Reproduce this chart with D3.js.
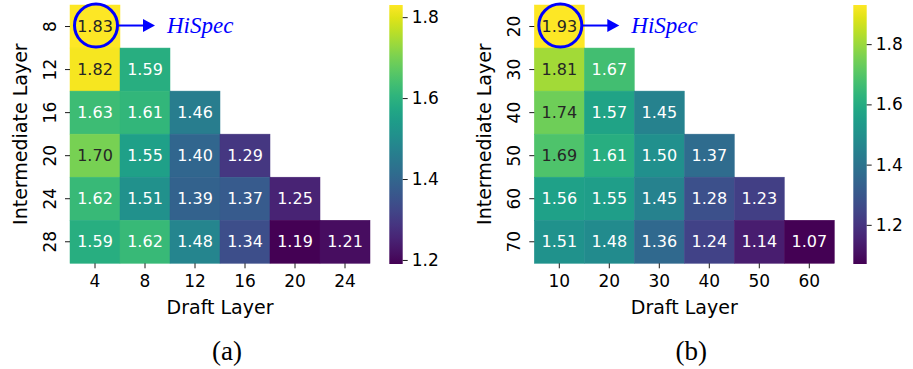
<!DOCTYPE html>
<html>
<head>
<meta charset="utf-8">
<script src="https://cdn.jsdelivr.net/npm/d3@7"></script>
<style>
  body { margin: 0; background: #fff; }
  svg { display: block; }
  .tick text { font-family: "DejaVu Sans", sans-serif; fill: #000; }
  .tick line { stroke: #000; stroke-width: 0.9; }
</style>
</head>
<body>
<div id="main"></div>
<script>
const W = 913, H = 369;

// panel (a)
const colsA = [4, 8, 12, 16, 20, 24];
const rowsA = [8, 12, 16, 20, 24, 28];
const valsA = [
    [1.83, null, null, null, null, null],
    [1.82, 1.59, null, null, null, null],
    [1.63, 1.61, 1.46, null, null, null],
    [1.70, 1.55, 1.40, 1.29, null, null],
    [1.62, 1.51, 1.39, 1.37, 1.25, null],
    [1.59, 1.62, 1.48, 1.34, 1.19, 1.21],
];

// panel (b)
const colsB = [10, 20, 30, 40, 50, 60];
const rowsB = [20, 30, 40, 50, 60, 70];
const valsB = [
    [1.93, null, null, null, null, null],
    [1.81, 1.67, null, null, null, null],
    [1.74, 1.57, 1.45, null, null, null],
    [1.69, 1.61, 1.50, 1.37, null, null],
    [1.56, 1.55, 1.45, 1.28, 1.23, null],
    [1.51, 1.48, 1.36, 1.24, 1.14, 1.07],
];

const cbarTicks = [1.2, 1.4, 1.6, 1.8];

// seaborn-style text colour from cell luminance
function textColor(c) {
    const rgb = d3.rgb(c);
    const lin = v => { v /= 255; return v <= 0.03928 ? v / 12.92 : Math.pow((v + 0.055) / 1.055, 2.4); };
    const lum = 0.2126 * lin(rgb.r) + 0.7152 * lin(rgb.g) + 0.0722 * lin(rgb.b);
    return lum > 0.408 ? "#262626" : "#ffffff";
}

function drawPanel(svg, cfg) {
    const { cols, rows, vals, x0, cbX, label, id } = cfg;
    const y0 = 5, pw = 300, ph = 258.3;
    const flat = vals.flat().filter(v => v !== null);
    const vmin = d3.min(flat), vmax = d3.max(flat);
    const color = d3.scaleSequential(d3.interpolateViridis).domain([vmin, vmax]);

    const x = d3.scaleBand().domain(cols).range([x0, x0 + pw]);
    const y = d3.scaleBand().domain(rows).range([y0, y0 + ph]);

    const cells = [];
    vals.forEach((r, i) => r.forEach((v, j) => {
        if (v !== null) cells.push({ row: rows[i], col: cols[j], v: v });
    }));

    const g = svg.append("g");
    g.selectAll("rect")
        .data(cells)
        .enter()
        .append("rect")
        .attr("x", d => x(d.col))
        .attr("y", d => y(d.row))
        .attr("width", x.bandwidth())
        .attr("height", y.bandwidth())
        .attr("fill", d => color(d.v))
        .attr("stroke", d => color(d.v))
        .attr("stroke-width", 0.5);

    g.selectAll("text")
        .data(cells)
        .enter()
        .append("text")
        .attr("x", d => x(d.col) + x.bandwidth() / 2)
        .attr("y", d => y(d.row) + y.bandwidth() / 2)
        .attr("text-anchor", "middle")
        .attr("dominant-baseline", "central")
        .attr("font-family", "DejaVu Sans, sans-serif")
        .attr("font-size", 16)
        .attr("fill", d => textColor(color(d.v)))
        .text(d => d.v.toFixed(2));

    // x axis
    const xa = svg.append("g")
        .attr("transform", `translate(0,${y0 + ph})`)
        .call(d3.axisBottom(x).tickSize(5).tickPadding(7));
    xa.select(".domain").remove();
    xa.selectAll("text").attr("font-size", 17);

    // y axis, labels rotated
    const ya = svg.append("g")
        .attr("transform", `translate(${x0},0)`)
        .call(d3.axisLeft(y).tickSize(5));
    ya.select(".domain").remove();
    ya.selectAll("text")
        .attr("x", null).attr("dy", null)
        .attr("text-anchor", "middle")
        .attr("dominant-baseline", "central")
        .attr("transform", "translate(-20,0) rotate(-90)")
        .attr("font-size", 17);

    svg.append("text")
        .attr("x", x0 + pw / 2)
        .attr("y", 314)
        .attr("text-anchor", "middle")
        .attr("font-family", "DejaVu Sans, sans-serif")
        .attr("font-size", 19)
        .text("Draft Layer");

    svg.append("text")
        .attr("transform", `translate(${x0 - 50},${y0 + ph / 2}) rotate(-90)`)
        .attr("text-anchor", "middle")
        .attr("dominant-baseline", "central")
        .attr("font-family", "DejaVu Sans, sans-serif")
        .attr("font-size", 19)
        .text("Intermediate Layer");

    svg.append("text")
        .attr("x", x0 + pw / 2 + 7)
        .attr("y", 360)
        .attr("text-anchor", "middle")
        .attr("font-family", "Liberation Serif, serif")
        .attr("font-size", 27)
        .text(label);

    // colorbar
    const cbTop = 5, cbBot = 264, cbW = 13.4;
    const grad = svg.append("defs").append("linearGradient")
        .attr("id", id).attr("x1", 0).attr("y1", 1).attr("x2", 0).attr("y2", 0);
    d3.range(0, 1.0001, 0.05).forEach(t => {
        grad.append("stop").attr("offset", t).attr("stop-color", d3.interpolateViridis(t));
    });
    svg.append("rect")
        .attr("x", cbX).attr("y", cbTop)
        .attr("width", cbW).attr("height", cbBot - cbTop)
        .attr("fill", `url(#${id})`);
    const cs = d3.scaleLinear().domain([vmin, vmax]).range([cbBot, cbTop]);
    const ca = svg.append("g")
        .attr("transform", `translate(${cbX + cbW},0)`)
        .call(d3.axisRight(cs).tickValues(cbarTicks).tickFormat(d3.format(".1f")).tickSize(5).tickPadding(4));
    ca.select(".domain").remove();
    ca.selectAll("text").attr("font-size", 17);

    // HiSpec marker on first cell
    const cx = x(cols[0]) + x.bandwidth() / 2 + 1;
    const cy = y(rows[0]) + y.bandwidth() / 2 - 1;
    const blue = "#0000ff";
    svg.append("circle")
        .attr("cx", cx).attr("cy", cy).attr("r", 21.5)
        .attr("fill", "none").attr("stroke", blue).attr("stroke-width", 3);
    svg.append("line")
        .attr("x1", cx + 21.5).attr("x2", cx + 50)
        .attr("y1", cy).attr("y2", cy)
        .attr("stroke", blue).attr("stroke-width", 2);
    svg.append("path")
        .attr("d", `M${cx + 47},${cy - 6.5} L${cx + 59},${cy} L${cx + 47},${cy + 6.5} Z`)
        .attr("fill", blue);
    svg.append("text")
        .attr("x", cx + 71).attr("y", cy + 7.5)
        .attr("font-family", "Liberation Serif, serif")
        .attr("font-style", "italic")
        .attr("font-size", 23)
        .attr("fill", blue)
        .text("HiSpec");
}

const svg = d3.select("#main").append("svg")
    .attr("width", W).attr("height", H);

drawPanel(svg, { cols: colsA, rows: rowsA, vals: valsA, x0: 70, cbX: 389.3, label: "(a)", id: "gradA" });
drawPanel(svg, { cols: colsB, rows: rowsB, vals: valsB, x0: 534.3, cbX: 853.3, label: "(b)", id: "gradB" });
</script>
</body>
</html>
